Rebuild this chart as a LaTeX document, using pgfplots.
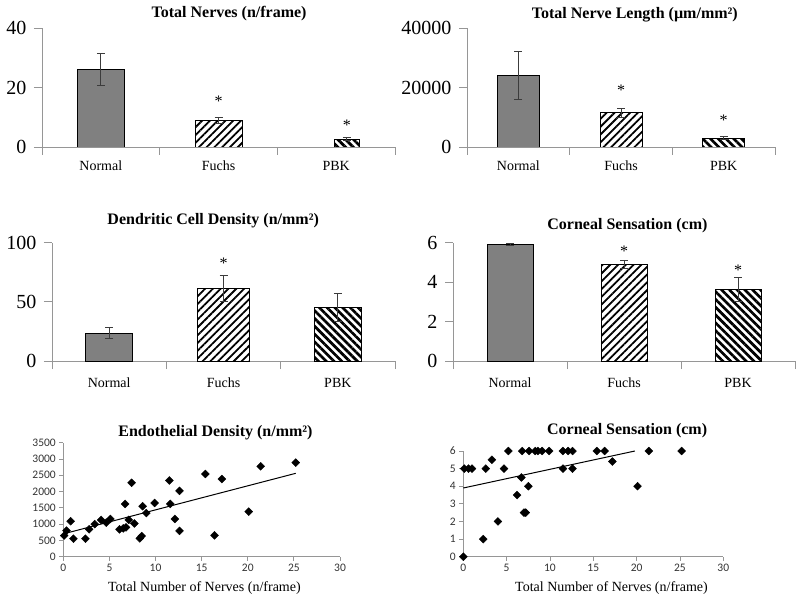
\documentclass[border=0pt]{standalone}
\usepackage{fontspec}
\setmainfont{Liberation Serif}
\newfontfamily\calibri{Carlito}
\usepackage{pgfplots}
\pgfplotsset{compat=1.18}
\usetikzlibrary{patterns.meta}

\definecolor{axgray}{RGB}{150,150,150}
\definecolor{barfill}{RGB}{128,128,128}
\definecolor{errcol}{RGB}{60,60,60}

\tikzset{star/.style={font=\fontsize{16}{16}\selectfont}}

\pgfplotsset{
  barchart/.style={
    scale only axis,
    axis lines=left,
    axis line style={-,draw=axgray,line width=0.9pt},
    tick align=outside,
    major tick length=8pt,
    tick style={draw=axgray,line width=0.9pt},
    xmin=-0.5, xmax=2.5, ymin=0,
    xtick={-0.5,0.5,1.5,2.5}, xticklabels={},
    extra x ticks={0,1,2},
    extra x tick labels={Normal,Fuchs,PBK},
    extra x tick style={major tick length=0pt},
    xticklabel style={font=\fontsize{14}{16}\selectfont, anchor=base, yshift=-24pt},
    yticklabel style={font=\fontsize{20}{22}\selectfont, xshift=-4pt},
    /pgf/number format/assume math mode=true,
    /pgf/number format/set thousands separator={},
    scaled y ticks=false,
    title style={font=\bfseries\fontsize{16}{18}\selectfont, anchor=center},
  },
  errs/.style={
    error bars/.cd, y dir=both, y explicit,
    error bar style={line width=1pt, color=errcol},
    error mark options={rotate=90, mark size=4pt, line width=1pt, color=errcol},
  },
  normalbar/.style={ybar, bar shift=0pt, draw=black, line width=0.9pt, fill=barfill},
  fuchsbar/.style={ybar, bar shift=0pt, draw=black, line width=0.9pt,
    pattern={Lines[angle=45,distance=5.5pt,line width=1.8pt]}, pattern color=black},
  pbkbar/.style={ybar, bar shift=0pt, draw=black, line width=0.9pt,
    pattern={Lines[angle=-45,distance=5.5pt,line width=2.7pt]}, pattern color=black},
  scat/.style={
    scale only axis,
    axis lines=left,
    axis line style={-,draw=axgray,line width=0.8pt},
    tick align=outside,
    major tick length=4pt,
    tick style={draw=axgray,line width=0.8pt},
    xmin=0, xmax=30, xtick={0,5,...,30}, ymin=0,
    ticklabel style={font=\calibri\fontsize{11.5}{13}\selectfont, color=black!80},
    /pgf/number format/assume math mode=true,
    /pgf/number format/set thousands separator={},
    xlabel={Total Number of Nerves (n/frame)},
    xlabel style={font=\fontsize{14}{16}\selectfont, anchor=center},
    title style={font=\bfseries\fontsize{16}{18}\selectfont, anchor=center},
    clip=false,
  },
  dots/.style={only marks, mark=square*, mark size=2.8pt,
    mark options={rotate=45, fill=black, draw=black}},
}

\begin{document}
\begin{tikzpicture}

% top left
\begin{axis}[barchart, at={(42pt,448pt)}, anchor=south west, width=353pt, height=119pt,
  ymax=40, ytick={0,20,40},
  title={Total Nerves (n/frame)}, title style={at={(0.53,1)}, yshift=8pt}]
\addplot[normalbar, bar width=47pt, errs] coordinates {(0,26) +- (0,5.3)};
\addplot[fuchsbar, bar width=47pt, errs] coordinates {(1,8.9) +- (0,1.1)};
\addplot[pbkbar, bar width=25pt, errs] coordinates {(2.09,2.6) +- (0,0.5)};
\node[star] at (axis cs:1,15.3) {*};
\node[star] at (axis cs:2.09,7.3) {*};
\end{axis}

% top right
\begin{axis}[barchart, at={(467pt,448pt)}, anchor=south west, width=308pt, height=119pt,
  ymax=40000, ytick={0,20000,40000},
  title={Total Nerve Length (µm/mm²)}, title style={at={(0.545,1)}, yshift=7pt}]
\addplot[normalbar, bar width=42pt, errs] coordinates {(0,24000) +- (0,8000)};
\addplot[fuchsbar, bar width=42pt, errs] coordinates {(1,11500) +- (0,1600)};
\addplot[pbkbar, bar width=42pt, errs] coordinates {(2,3000) +- (0,600)};
\node[star] at (axis cs:1,19000) {*};
\node[star] at (axis cs:2,8900) {*};
\end{axis}

% middle left
\begin{axis}[barchart, at={(52pt,234pt)}, anchor=south west, width=343pt, height=118.3pt,
  ymax=100, ytick={0,50,100},
  xticklabel style={yshift=-2pt},
  title={Dendritic Cell Density (n/mm²)}, title style={at={(0.47,1)}, yshift=16.5pt}]
\addplot[normalbar, bar width=47pt, errs] coordinates {(0,23.4) +- (0,4.8)};
\addplot[fuchsbar, bar width=52pt, errs] coordinates {(1,61.4) +- (0,10.7)};
\addplot[pbkbar, bar width=47pt, errs] coordinates {(2,45.4) +- (0,11.8)};
\node[star] at (axis cs:1,82.5) {*};
\end{axis}

% middle right
\begin{axis}[barchart, at={(453pt,234pt)}, anchor=south west, width=342pt, height=118.3pt,
  ymax=6, ytick={0,2,4,6},
  xticklabel style={yshift=-2pt},
  title={Corneal Sensation (cm)}, title style={at={(0.51,1)}, yshift=11.5pt}]
\addplot[normalbar, bar width=46pt, errs] coordinates {(0,5.91) +- (0,0.03)};
\addplot[fuchsbar, bar width=46pt, errs] coordinates {(1,4.9) +- (0,0.2)};
\addplot[pbkbar, bar width=46pt, errs] coordinates {(2,3.62) +- (0,0.6)};
\node[star] at (axis cs:1,5.55) {*};
\node[star] at (axis cs:2,4.58) {*};
\end{axis}

% bottom left
\begin{axis}[scat, at={(63.3pt,38.3pt)}, anchor=south west, width=276.7pt, height=114pt,
  ymax=3500, ytick={0,500,...,3500},
  xlabel style={at={(0.51,0)}, yshift=-31pt},
  title={Endothelial Density (n/mm²)}, title style={at={(0.55,1)}, yshift=4.5pt}]
\addplot[dots] coordinates {
  (0.1,650) (0.35,800) (0.8,1090) (1.1,553) (2.4,553) (2.8,840) (3.4,1000)
  (4.1,1130) (4.65,1045) (5.1,1160) (6.1,840) (6.5,870) (6.8,900) (6.7,1620)
  (7.1,1130) (7.4,2270) (7.7,1020) (8.3,563) (8.5,634) (8.6,1550) (9.0,1340)
  (9.9,1650) (11.5,2340) (11.6,1620) (12.1,1160) (12.6,2020) (12.6,790)
  (15.4,2540) (16.4,656) (17.2,2385) (20.1,1383) (21.4,2775) (25.2,2887)
};
\addplot[black, line width=1pt] coordinates {(0,700) (25.2,2560)};
\end{axis}

% bottom right
\begin{axis}[scat, at={(463.3pt,38.3pt)}, anchor=south west, width=260pt, height=105.7pt,
  ymax=6, ytick={0,1,...,6},
  xlabel style={at={(0.57,0)}, yshift=-31pt},
  title={Corneal Sensation (cm)}, title style={at={(0.63,1)}, yshift=14pt}]
\addplot[dots] coordinates {
  (0,0) (0.1,5) (0.6,5) (1.0,5) (2.3,1) (2.6,5) (3.3,5.5) (4.0,2) (4.7,5)
  (5.2,6) (6.2,3.5) (6.7,4.5) (6.8,6) (7.0,2.5) (7.2,2.5) (7.5,4) (7.6,6)
  (8.3,6) (8.6,6) (9.1,6) (9.9,6) (11.5,5) (11.5,6) (12.1,6) (12.6,6) (12.6,5)
  (15.4,6) (16.3,6) (17.2,5.4) (20.1,4) (21.4,6) (25.2,6)
};
\addplot[black, line width=1pt] coordinates {(0,3.9) (19.8,6.0)};
\end{axis}

\pgfresetboundingbox
\useasboundingbox (0pt,0pt) rectangle (800pt,595pt);
\end{tikzpicture}
\end{document}
